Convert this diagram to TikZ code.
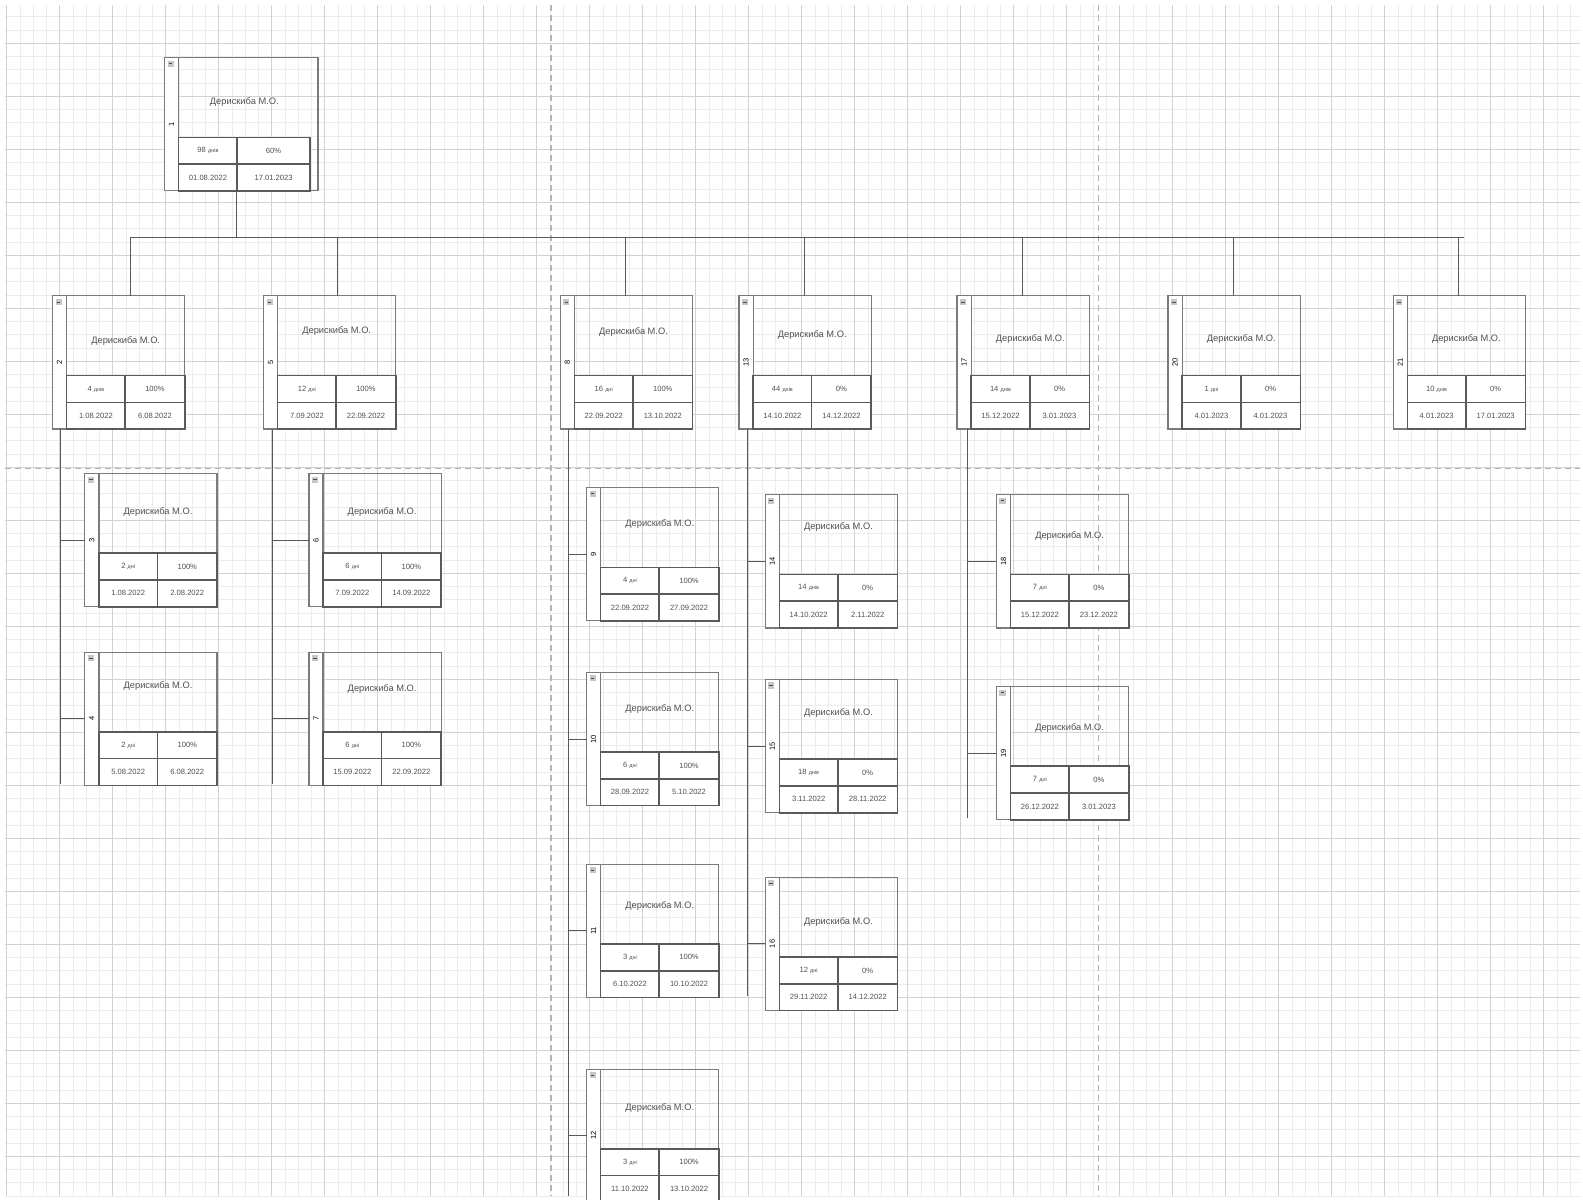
\documentclass[tikz,border=0pt]{standalone}
\usepackage{fontspec}
\setmainfont{Liberation Sans}
\usetikzlibrary{calc}
\definecolor{gridmin}{HTML}{ECECEC}
\definecolor{gridmaj}{HTML}{D2D2D2}
\definecolor{boxline}{HTML}{7A7A7A}
\definecolor{tabline}{HTML}{5A5A5A}
\definecolor{txt}{HTML}{505050}
\definecolor{pagebr}{HTML}{B4B4B4}
\tikzset{
 wbsbox/.style={draw=boxline, line width=1.2pt, inner sep=0, outer sep=0, minimum height=133.27pt, anchor=north west},
 tabst/.style={draw=tabline, line width=1.6pt, fill=white},
 tabln/.style={draw=tabline, line width=1.6pt},
 conn/.style={draw=black!65, line width=1pt},
 nametext/.style={font=\fontsize{9.3}{10}\selectfont, text=txt},
 celltext/.style={font=\fontsize{7.6}{8}\selectfont, text=txt},
 numtext/.style={font=\fontsize{7.5}{8}\selectfont, text=black, rotate=90},
 gminor/.style={draw=gridmin, line width=0.8pt},
 gmajor/.style={draw=gridmaj, line width=1pt},
 pbreak/.style={draw=pagebr, line width=1.5pt, dash pattern=on 6pt off 4pt},
}
\newcommand\dnv{{\fontsize{5.5}{5}\selectfont днів}}
\newcommand\dnw{{\fontsize{5.5}{5}\selectfont дні}}
\def\bw{131}
\def\tabR{0}
\newcommand\wbs[8]{%
 \pgfmathsetmacro\tr{#2+\bw-\tabR}
 \pgfmathsetmacro\bwd{\bw*1.0096}
 \fill[white] (#2,#3) rectangle (#2+14,#3+132);
 \node[wbsbox, minimum width=\bwd pt] (b#1) at (#2,#3) {};
 \draw[boxline, line width=1.2pt] (#2+14,#3) -- (#2+14,#3+132);
 \fill[gray!45] (#2+3,#3+3) rectangle (#2+9,#3+9);
 \draw[black!70, line width=0.6pt] (#2+4.2,#3+6) -- (#2+7.8,#3+6);
 \node[numtext] (n#1) at (#2+7,#3+66) {#1};
 \node[nametext] (m#1) at ({(#2+14+\tr)/2},#3+#4) {Дерискиба М.О.};
 \draw[tabst] (#2+14,#3+79) rectangle (\tr,#3+132);
 \draw[tabln] (#2+14,#3+105.5) -- (\tr,#3+105.5) (#2+72,#3+79) -- (#2+72,#3+132);
 \node[celltext] (d#1) at ({#2+43},#3+92.25) {#5};
 \node[celltext] (p#1) at ({(#2+72+\tr)/2},#3+92.25) {#6};
 \node[celltext] (s#1) at ({#2+43},#3+118.75) {#7};
 \node[celltext] (e#1) at ({(#2+72+\tr)/2},#3+118.75) {#8};
}
\begin{document}
\begin{tikzpicture}[x=1.0096pt,y=-1.0096pt]
\useasboundingbox (0,0) rectangle (1568,1188);
% grid
\begin{scope}
\clip (5,5) rectangle (1565,1185);
\foreach \i in {0,...,119} \draw[gminor] ({6.6+13.125*\i},5) -- ({6.6+13.125*\i},1185);
\foreach \j in {0,...,90} \draw[gminor] (5,{3.53+13.125*\j}) -- (1565,{3.53+13.125*\j});
\foreach \i in {0,...,29} \draw[gmajor] ({6.6+52.5*\i},5) -- ({6.6+52.5*\i},1185);
\foreach \j in {0,...,22} \draw[gmajor] (5,{42.9+52.5*\j}) -- (1565,{42.9+52.5*\j});
\end{scope}
% page breaks
\draw[pbreak] (546,5) -- (546,1185);
\draw[pbreak] (1088,5) -- (1088,1185);
\draw[pbreak] (5,464) -- (1565,464);

% boxes
\def\bw{152}\def\tabR{8}
\wbs{1}{163}{57}{44}{98 \dnv}{60\%}{01.08.2022}{17.01.2023}
\def\bw{131}\def\tabR{0}
\wbs{2}{52}{293}{45}{4 \dnv}{100\%}{1.08.2022}{6.08.2022}
\wbs{5}{261}{293}{35}{12 \dnw}{100\%}{7.09.2022}{22.09.2022}
\wbs{8}{555}{293}{36}{16 \dnw}{100\%}{22.09.2022}{13.10.2022}
\wbs{13}{732}{293}{39}{44 \dnv}{0\%}{14.10.2022}{14.12.2022}
\wbs{17}{948}{293}{43}{14 \dnv}{0\%}{15.12.2022}{3.01.2023}
\wbs{20}{1157}{293}{43}{1 \dnw}{0\%}{4.01.2023}{4.01.2023}
\wbs{21}{1380}{293}{43}{10 \dnv}{0\%}{4.01.2023}{17.01.2023}
\wbs{3}{84}{469}{38}{2 \dnw}{100\%}{1.08.2022}{2.08.2022}
\wbs{4}{84}{646}{34}{2 \dnw}{100\%}{5.08.2022}{6.08.2022}
\wbs{6}{306}{469}{38}{6 \dnw}{100\%}{7.09.2022}{14.09.2022}
\wbs{7}{306}{646}{37}{6 \dnw}{100\%}{15.09.2022}{22.09.2022}
\wbs{9}{581}{483}{36}{4 \dnw}{100\%}{22.09.2022}{27.09.2022}
\wbs{10}{581}{666}{36}{6 \dnw}{100\%}{28.09.2022}{5.10.2022}
\wbs{11}{581}{856}{41}{3 \dnw}{100\%}{6.10.2022}{10.10.2022}
\wbs{12}{581}{1059}{39}{3 \dnw}{100\%}{11.10.2022}{13.10.2022}
\wbs{14}{758}{490}{32}{14 \dnv}{0\%}{14.10.2022}{2.11.2022}
\wbs{15}{758}{673}{33}{18 \dnv}{0\%}{3.11.2022}{28.11.2022}
\wbs{16}{758}{869}{44}{12 \dnw}{0\%}{29.11.2022}{14.12.2022}
\wbs{18}{987}{490}{41}{7 \dnw}{0\%}{15.12.2022}{23.12.2022}
\wbs{19}{987}{680}{41}{7 \dnw}{0\%}{26.12.2022}{3.01.2023}

% connectors: root bus
\coordinate (busL) at (129,235);
\coordinate (busR) at (1450,235);
\draw[conn] (busL) -- (busR);
\coordinate (r1) at ($(b1.south west)+(71,0)$);
\coordinate (t2) at ($(b2.north west)+(77,0)$);
\coordinate (t5) at ($(b5.north west)+(73,0)$);
\coordinate (t8) at ($(b8.north west)+(65,0)$);
\coordinate (t13) at ($(b13.north west)+(65,0)$);
\coordinate (t17) at ($(b17.north west)+(65,0)$);
\coordinate (t20) at ($(b20.north west)+(65,0)$);
\coordinate (t21) at ($(b21.north west)+(65,0)$);
\draw[conn] (r1) -- (r1 |- busL);
\foreach \k in {2,5,8,13,17,20,21} \draw[conn] (t\k) -- (t\k |- busL);

% children
\draw[conn] ($(b2.south west)+(8,0)$) coordinate (v2) -- ++(0,352);
\draw[conn] (v2 |- b3.west) -- (b3.west);
\draw[conn] (v2 |- b4.west) -- (b4.west);
\draw[conn] ($(b5.south west)+(9,0)$) coordinate (v5) -- ++(0,352);
\draw[conn] (v5 |- b6.west) -- (b6.west);
\draw[conn] (v5 |- b7.west) -- (b7.west);
\draw[conn] ($(b8.south west)+(8,0)$) coordinate (v8) -- ++(0,760);
\draw[conn] (v8 |- b9.west) -- (b9.west);
\draw[conn] (v8 |- b10.west) -- (b10.west);
\draw[conn] (v8 |- b11.west) -- (b11.west);
\draw[conn] (v8 |- b12.west) -- (b12.west);
\draw[conn] ($(b13.south west)+(8,0)$) coordinate (v13) -- ++(0,562);
\draw[conn] (v13 |- b14.west) -- (b14.west);
\draw[conn] (v13 |- b15.west) -- (b15.west);
\draw[conn] (v13 |- b16.west) -- (b16.west);
\draw[conn] ($(b17.south west)+(10,0)$) coordinate (v17) -- ++(0,385);
\draw[conn] (v17 |- b18.west) -- (b18.west);
\draw[conn] (v17 |- b19.west) -- (b19.west);
\end{tikzpicture}
\end{document}
